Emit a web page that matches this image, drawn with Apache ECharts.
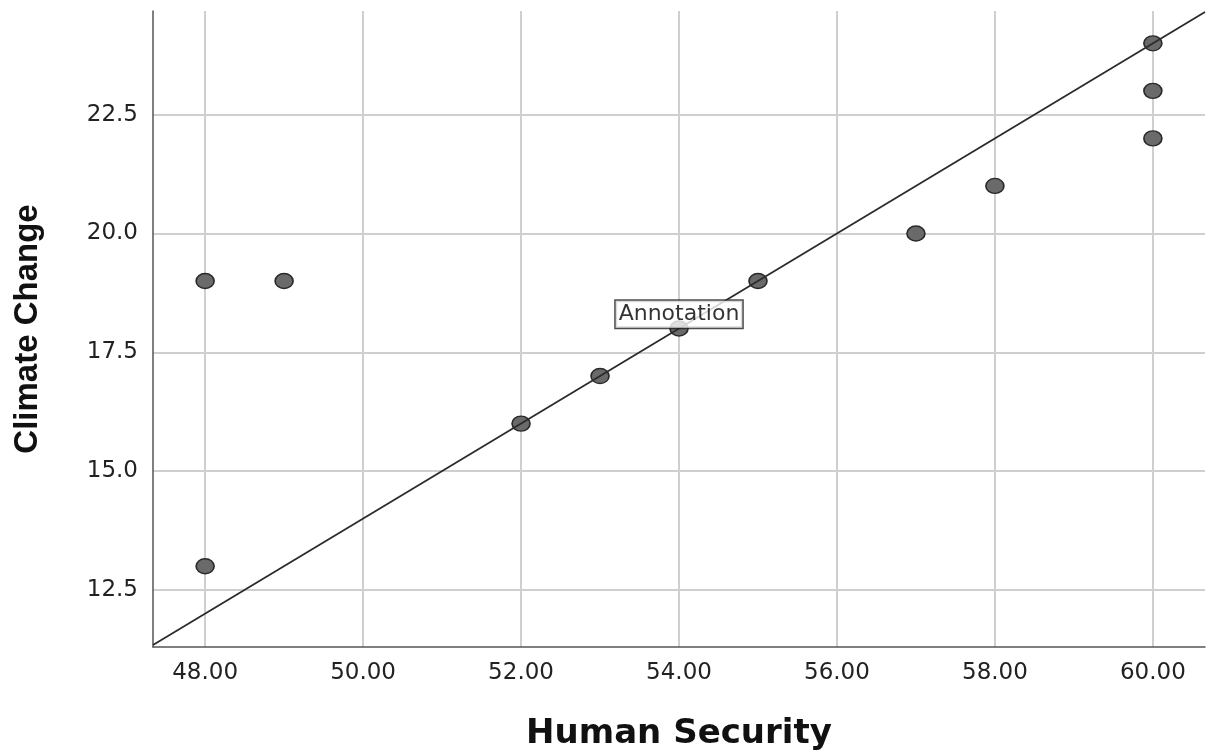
<!DOCTYPE html>
<html>
<head>
<meta charset="utf-8">
<script src="https://cdn.jsdelivr.net/npm/echarts@6/dist/echarts.min.js"></script>
<style>
  html, body { margin: 0; padding: 0; background: #fff; }
  #miGrafica { width: 1211px; height: 753px; }
</style>
</head>
<body>
<div id="miGrafica"></div>
<script>
// Scatter of Human Security vs Climate Change, with a fit line

var humanSecurity = [48, 49, 48, 52, 53, 54, 55, 57, 58, 60, 60, 60];
var climateChange = [19, 19, 13, 16, 17, 18, 19, 20, 21, 24, 23, 22];

var xTicks = [48, 50, 52, 54, 56, 58, 60];
var yTicks = [12.5, 15, 17.5, 20, 22.5];

var xRange = [47.34, 60.66];
var yRange = [11.3, 24.68];

// fit line y = x - 36, drawn across the whole x range
var fitX = [47.34, 60.66];
var fitY = [11.34, 24.66];

var annotationPoint = [54, 18.3];
var annotationText = 'Annotation';

var points = humanSecurity.map(function (x, i) { return [x, climateChange[i]]; });
var fitLine = fitX.map(function (x, i) { return [x, fitY[i]]; });

var dom = document.getElementById('miGrafica');
var myChart = echarts.init(dom, null, {
    renderer: 'canvas',
    useDirtyRect: false
});

var ellipse = 'path://M1,0A1,1,0,1,1,-1,0A1,1,0,1,1,1,0Z';

var option = {
    animation: false,
    backgroundColor: '#fff',
    grid: {
        left: 153,
        right: 6,
        top: 11,
        bottom: 106,
        containLabel: false,
        outerBoundsMode: 'none'
    },
    xAxis: {
        type: 'value',
        min: xRange[0],
        max: xRange[1],
        name: 'Human Security',
        nameLocation: 'middle',
        nameGap: 70,
        nameTextStyle: { fontFamily: 'DejaVu Sans', fontWeight: 'bold', fontSize: 34, color: '#111' },
        axisLine: { lineStyle: { color: '#555', width: 1.5 } },
        axisTick: { show: false, customValues: xTicks },
        axisLabel: {
            customValues: xTicks,
            formatter: function (v) { return v.toFixed(2); },
            fontFamily: 'DejaVu Sans', fontSize: 23, color: '#222', margin: 15
        },
        splitLine: { show: true, lineStyle: { color: '#cfcfcf', width: 2 } }
    },
    yAxis: {
        type: 'value',
        min: yRange[0],
        max: yRange[1],
        name: 'Climate Change',
        nameLocation: 'middle',
        nameGap: 109,
        nameTextStyle: { fontFamily: 'Liberation Sans', fontWeight: 'bold', fontSize: 33, color: '#111' },
        axisLine: { show: true, lineStyle: { color: '#555', width: 1.5 } },
        axisTick: { show: false, customValues: yTicks },
        axisLabel: {
            customValues: yTicks,
            formatter: function (v) { return v.toFixed(1); },
            fontFamily: 'DejaVu Sans', fontSize: 23, color: '#222', margin: 15
        },
        splitLine: { show: true, lineStyle: { color: '#cfcfcf', width: 2 } }
    },
    series: [
        {
            type: 'scatter',
            data: points,
            symbol: ellipse,
            symbolSize: [18, 15],
            itemStyle: { color: '#6a6a6a', borderColor: '#2a2a2a', borderWidth: 1.5, opacity: 1 },
            z: 2
        },
        {
            type: 'line',
            data: fitLine,
            symbol: 'none',
            lineStyle: { color: '#2b2b2b', width: 1.8 },
            z: 3
        },
        {
            type: 'scatter',
            data: [annotationPoint],
            symbolSize: 0,
            z: 5,
            label: {
                show: true,
                position: 'inside',
                formatter: annotationText,
                fontFamily: 'DejaVu Sans',
                fontSize: 22,
                color: '#000',
                backgroundColor: '#fff',
                borderColor: '#222',
                borderWidth: 1.5,
                padding: [3, 3, 2, 3]
            }
        }
    ]
};

if (option && typeof option === 'object') {
    myChart.setOption(option);
}

window.addEventListener('resize', myChart.resize);
</script>
</body>
</html>
